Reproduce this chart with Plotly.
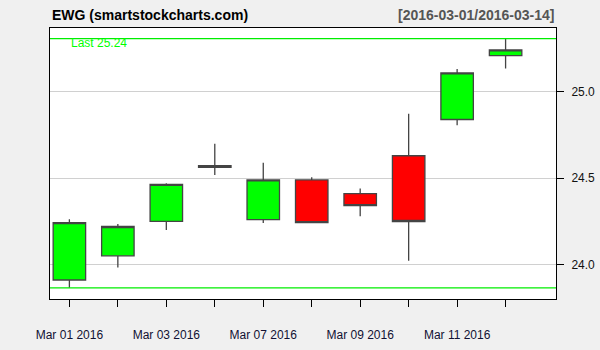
import plotly.graph_objects as go

dates = ["Mar 01 2016", "Mar 02 2016", "Mar 03 2016", "Mar 04 2016", "Mar 07 2016",
         "Mar 08 2016", "Mar 09 2016", "Mar 10 2016", "Mar 11 2016", "Mar 14 2016"]
opens = [23.91, 24.05, 24.25, 24.572, 24.26, 24.49, 24.41, 24.63, 24.84, 25.21]
highs = [24.262, 24.235, 24.47, 24.70, 24.59, 24.505, 24.44, 24.873, 25.133, 25.308]
lows = [23.865, 23.983, 24.20, 24.518, 24.24, 24.24, 24.28, 24.021, 24.807, 25.135]
closes = [24.243, 24.22, 24.464, 24.562, 24.49, 24.243, 24.341, 24.249, 25.11, 25.243]
last_value = 25.24
title_left = "EWG (smartstockcharts.com)"
title_right = "[2016-03-01/2016-03-14]"

idx = list(range(len(dates)))
ticktext = [d if i % 2 == 0 else "" for i, d in enumerate(dates)]

fig = go.Figure()
fig.add_trace(go.Candlestick(
    x=idx, open=opens, high=highs, low=lows, close=closes,
    increasing=dict(fillcolor="#00FF00", line=dict(color="#444444", width=1.3)),
    decreasing=dict(fillcolor="#FF0000", line=dict(color="#444444", width=1.3)),
    whiskerwidth=0, showlegend=False, hoverinfo="skip",
))

hi = max(highs)
lo = min(lows)
for yv in (hi, lo):
    fig.add_shape(type="line", xref="paper", x0=0, x1=1, yref="y", y0=yv, y1=yv,
                  line=dict(color="#00EE00", width=1.2), layer="above")

fig.add_annotation(x=0.0, y=25.283, xref="x", yref="y", text=f"Last {last_value:.2f}",
                   showarrow=False, xanchor="left", yanchor="middle",
                   font=dict(family="Liberation Sans, Arial", size=12, color="#00FF00"))

fig.add_annotation(x=0, y=1, xref="paper", yref="paper", text=f"<b>{title_left}</b>",
                   showarrow=False, xanchor="left", yanchor="bottom", yshift=3,
                   font=dict(family="Liberation Sans, Arial", size=14, color="#000000"))
fig.add_annotation(x=1, y=1, xref="paper", yref="paper", text=f"<b>{title_right}</b>",
                   showarrow=False, xanchor="right", yanchor="bottom", yshift=3,
                   font=dict(family="Liberation Sans, Arial", size=14, color="#555555"))

fig.update_layout(
    width=600, height=350,
    margin=dict(l=50, r=44, t=28, b=51, autoexpand=False),
    paper_bgcolor="#F0F0F0", plot_bgcolor="#FFFFFF",
    boxgap=0.33, boxgroupgap=0,
    font=dict(family="Liberation Sans, Arial", size=12, color="#111111"),
    xaxis=dict(
        range=[-0.4, 10.04], tickmode="array", tickvals=idx, ticktext=ticktext,
        ticks="outside", ticklen=7, tickcolor="#000000", showgrid=False,
        showline=True, linecolor="#000000", linewidth=1, mirror=True,
        rangeslider=dict(visible=False), zeroline=False, ticklabelstandoff=18,
        tickfont=dict(size=12, color="#111133"), automargin=False,
    ),
    yaxis=dict(
        range=[23.80, 25.37], side="right", tickvals=[24.0, 24.5, 25.0],
        ticktext=["24.0", "24.5", "25.0"],
        ticks="outside", ticklen=7, tickcolor="#000000",
        showgrid=True, gridcolor="#D0D0D0", gridwidth=1,
        showline=True, linecolor="#000000", linewidth=1, mirror=True,
        zeroline=False, tickfont=dict(size=12, color="#111111"), automargin=False,
        ticklabelstandoff=5,
    ),
)

fig.write_html("out.html")
